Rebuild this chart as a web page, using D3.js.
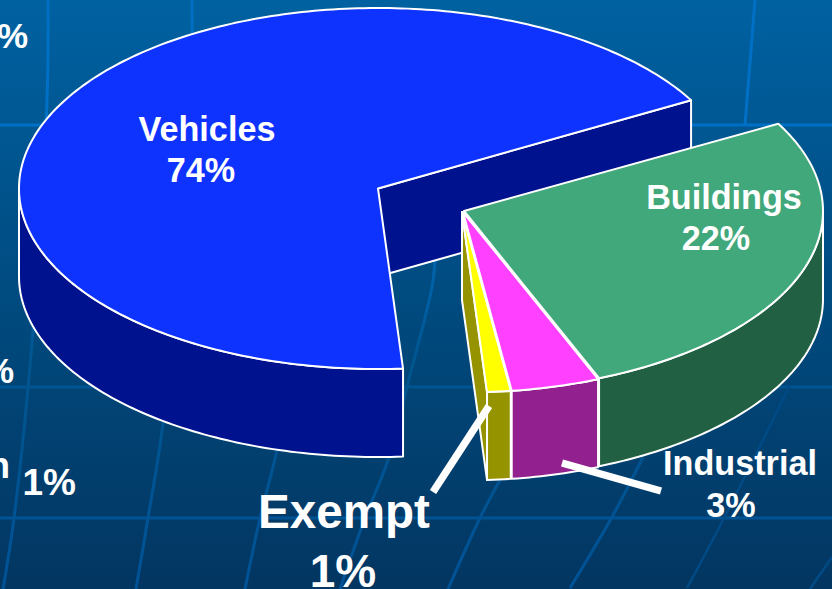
<!DOCTYPE html>
<html>
<head>
<meta charset="utf-8">
<style>
html,body{margin:0;padding:0;background:#003560;overflow:hidden}
svg{display:block}
text{font-family:"Liberation Sans",Arial,sans-serif;font-weight:700;fill:#fff}
</style>
<script src="https://cdn.jsdelivr.net/npm/d3@7"></script>
</head>
<body>
<svg id="chart" width="832" height="589"></svg>
<script>
// ---- data ----
const categories = ["Buildings", "Industrial", "Exempt", "Vehicles"];
const shares = [22, 3, 1, 74];
const topColors = ["#41A87B", "#FF40FF", "#FFFF00", "#0F33FF"];
const sideColors = ["#226044", "#92208E", "#969300", "#00128E"];
const clippedLabels = ["%", "%", "n", "1%"];

// ---- layout ----
const W = 832, H = 589;
const RX = 359, RY = 180.5, DEPTH = 88;
const centers = [[464, 211], [463, 212], [462, 212], [378, 188.5]];
// The tilted pie is foreshortened: pie angle → angle on the drawn ellipse.
const toRad = Math.PI / 180;
const pieArcs = d3.pie().sort(null).value(d => d).startAngle(0).endAngle(2 * Math.PI)(shares);
const cuts = [0].concat(pieArcs.map(a => a.endAngle));
const ellipseAngle = d3.scaleLinear().domain(cuts)
  .range([-28.9, 67.9, 82.2, 86, 330.7].map(d => d * toRad));

const svg = d3.select("#chart");
const defs = svg.append("defs");
const bg = defs.append("linearGradient").attr("id", "bg").attr("x1", 0).attr("y1", 0).attr("x2", 0).attr("y2", 1);
bg.append("stop").attr("offset", 0).attr("stop-color", "#0061A1");
bg.append("stop").attr("offset", 0.5).attr("stop-color", "#004B80");
bg.append("stop").attr("offset", 1).attr("stop-color", "#033661");
const gl = defs.append("linearGradient").attr("id", "gridInk").attr("gradientUnits", "userSpaceOnUse")
  .attr("x1", 0).attr("y1", 0).attr("x2", 0).attr("y2", H);
gl.append("stop").attr("offset", 0).attr("stop-color", "#0070C4");
gl.append("stop").attr("offset", 0.3).attr("stop-color", "#0070C8");
gl.append("stop").attr("offset", 0.62).attr("stop-color", "#00558F");
gl.append("stop").attr("offset", 1).attr("stop-color", "#005296");

svg.append("rect").attr("width", W).attr("height", H).attr("fill", "url(#bg)");

// ---- decorative grid of the slide background ----
const curve = d3.line().curve(d3.curveCatmullRom);
const gridLines = [
  [[0,125],[832,125]],
  [[0,387],[832,387]],
  [[0,518],[832,518]],
  [[48,0],[47,100],[33,330],[14,518],[3,589]],
  [[192,0],[190,120],[163,423],[148,518],[136,589]],
  [[290,380],[277,450],[260,518],[245,589]],
  [[435,260],[432,287],[407,387],[388,460],[365,518],[340,589]],
  [[500,480],[480,518],[448,589]],
  [[643,457],[612,517],[570,588]],
  [[755,0],[745,125]]
];
const faintLines = [
  [[790,385],[723,520],[687,588]],
  [[832,557],[810,589]]
];
const grid = svg.append("g").attr("fill", "none");
grid.selectAll("path.g").data(gridLines).join("path").attr("class", "g")
  .attr("d", curve).attr("stroke", "url(#gridInk)").attr("stroke-width", 3);
grid.selectAll("path.f").data(faintLines).join("path").attr("class", "f")
  .attr("d", curve).attr("stroke", "#004A85").attr("stroke-width", 2.5);

// ---- pie geometry ----
const pt = (c, t, dy = 0) => [c[0] + RX * Math.cos(t), c[1] + RY * Math.sin(t) + dy];
const arcPts = (c, t0, t1, dy = 0) => {
  const n = Math.max(2, Math.ceil(Math.abs(t1 - t0) / (1 * toRad)));
  return d3.range(n + 1).map(i => pt(c, t0 + (t1 - t0) * i / n, dy));
};
const poly = d3.line();
const closed = pts => poly(pts) + "Z";
const stroke = g => g.attr("stroke", "#fff").attr("stroke-width", 2).attr("stroke-linejoin", "round");

const pie = svg.append("g");
function drawWall(c, t, fill) {
  pie.append("path").attr("d", closed([c, pt(c, t), pt(c, t, DEPTH), [c[0], c[1] + DEPTH]]))
    .attr("fill", fill).call(stroke);
}
function drawSide(c, t0, t1, fill) {
  const a = Math.max(t0, 0), b = Math.min(t1, Math.PI);
  if (b <= a) return;
  pie.append("path").attr("d", closed(arcPts(c, a, b).concat(arcPts(c, b, a, DEPTH))))
    .attr("fill", fill).call(stroke);
}
function drawTop(c, t0, t1, fill) {
  pie.append("path").attr("d", closed([c].concat(arcPts(c, t0, t1)))).attr("fill", fill).call(stroke);
}

// Back to front: Vehicles, Exempt, Industrial, Buildings
[3, 2, 1, 0].forEach(i => {
  const c = centers[i];
  const t0 = ellipseAngle(pieArcs[i].startAngle), t1 = ellipseAngle(pieArcs[i].endAngle);
  if (i === 3) drawWall(c, t1, sideColors[i]);
  if (i === 2) drawWall(c, t1, sideColors[i]);
  drawSide(c, t0, t1, sideColors[i]);
  drawTop(c, t0, t1, topColors[i]);
});

// ---- leader lines ----
const leaders = [[[489, 406], [433, 492]], [[562, 463], [661, 491]]];
svg.append("g").selectAll("path").data(leaders).join("path")
  .attr("d", poly).attr("stroke", "#fff").attr("stroke-width", 7.5).attr("fill", "none");

// ---- labels ----
const labelSpots = [
  { x: [724, 716], y: [209, 250], size: 34.2 },
  { x: [740, 731], y: [475, 517], size: 34.2 },
  { x: [344, 343], y: [528, 587], size: 47.6 },
  { x: [207, 201], y: [141, 182], size: 34.2 }
];
const labels = svg.append("g").attr("text-anchor", "middle");
categories.forEach((name, i) => {
  const s = labelSpots[i];
  labels.append("text").attr("x", s.x[0]).attr("y", s.y[0]).attr("font-size", s.size).text(name);
  labels.append("text").attr("x", s.x[1]).attr("y", s.y[1]).attr("font-size", i === 2 ? 46 : s.size).text(shares[i] + "%");
});

// ---- labels of a neighbouring chart, cut off by the left edge ----
const clippedSpots = [
  { x: 28, y: 48, size: 35 },
  { x: 14, y: 383, size: 35 },
  { x: 10, y: 478, size: 36 },
  { x: 76, y: 495, size: 37 }
];
svg.append("g").attr("text-anchor", "end").selectAll("text").data(clippedLabels).join("text")
  .attr("x", (d, i) => clippedSpots[i].x).attr("y", (d, i) => clippedSpots[i].y)
  .attr("font-size", (d, i) => clippedSpots[i].size).text(d => d);
</script>
</body>
</html>
